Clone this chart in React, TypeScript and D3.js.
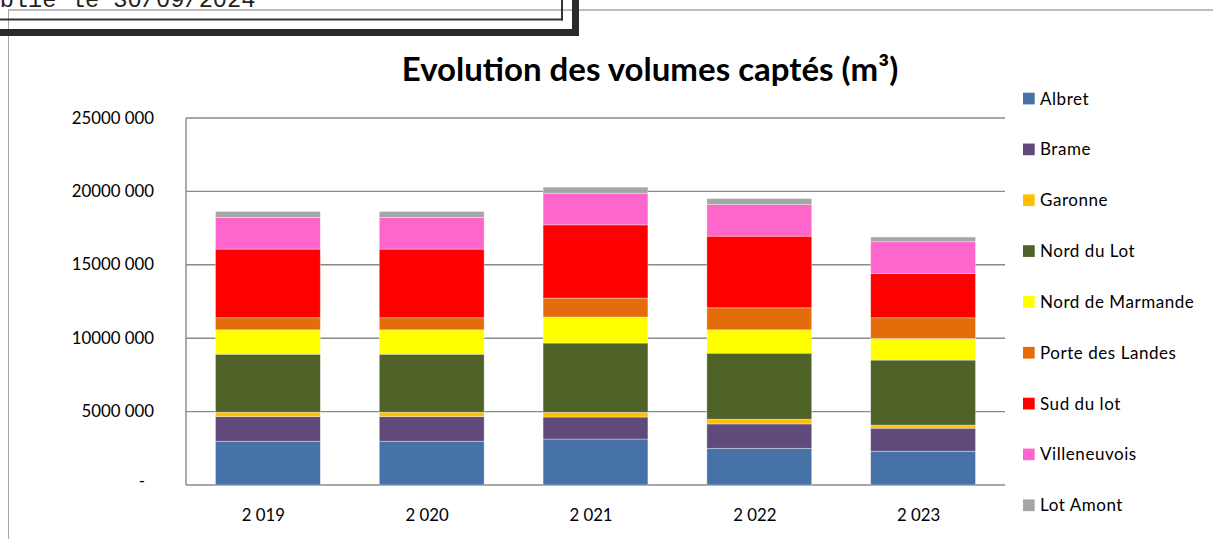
import React from "react";
import * as d3 from "d3";

const years = ["2 019", "2 020", "2 021", "2 022", "2 023"];

const seriesNames = [
  "Albret",
  "Brame",
  "Garonne",
  "Nord du Lot",
  "Nord de Marmande",
  "Porte des Landes",
  "Sud du lot",
  "Villeneuvois",
  "Lot Amont",
];

const albret = [2980000, 2980000, 3130000, 2500000, 2300000];
const brame = [1680000, 1680000, 1500000, 1660000, 1570000];
const garonne = [300000, 300000, 320000, 320000, 210000];
const nordDuLot = [3950000, 3950000, 4720000, 4500000, 4430000];
const nordDeMarmande = [1660000, 1660000, 1770000, 1590000, 1470000];
const porteDesLandes = [820000, 820000, 1290000, 1500000, 1410000];
const sudDuLot = [4680000, 4680000, 4990000, 4880000, 3020000];
const villeneuvois = [2150000, 2150000, 2160000, 2150000, 2160000];
const lotAmont = [410000, 410000, 410000, 410000, 320000];

const seriesValues = [
  albret,
  brame,
  garonne,
  nordDuLot,
  nordDeMarmande,
  porteDesLandes,
  sudDuLot,
  villeneuvois,
  lotAmont,
];

const seriesColors = [
  "#4672A8",
  "#604A7B",
  "#FFC000",
  "#4F6228",
  "#FFFF00",
  "#E46C0A",
  "#FF0000",
  "#FF66CC",
  "#A6A6A6",
];

const yTickValues = [0, 5000000, 10000000, 15000000, 20000000, 25000000];
const yTickLabels = ["-", "5000 000", "10000 000", "15000 000", "20000 000", "25000 000"];

const title = "Evolution des volumes captés (m³)";
const stampText = "Établie le 30/09/2024";

export default function App() {
  const W = 1213;
  const H = 539;
  const left = 186;
  const right = 1005;
  const top = 118;
  const bottom = 485;

  const rows = years.map((y, i) => {
    const r: any = { year: y };
    seriesNames.forEach((s, j) => (r[s] = seriesValues[j][i]));
    return r;
  });
  const stacked = d3.stack<any>().keys(seriesNames)(rows);

  const x = d3
    .scaleBand<string>()
    .domain(years)
    .range([left, right])
    .paddingInner(0.36)
    .paddingOuter(0.18);
  const y = d3.scaleLinear().domain([0, 25000000]).range([bottom, top]);

  const font = "Lato, 'Open Sans', sans-serif";
  const legendY0 = 98.5;
  const legendStep = 50.84;

  return (
    <svg
      width={W}
      height={H}
      style={{ position: "absolute", left: 0, top: 0, background: "#fff" }}
    >
      <rect x={0} y={0} width={W} height={H} fill="#fff" />
      {/* frame lines */}
      <line x1={8} y1={10} x2={W} y2={10} stroke="#a6a6a6" strokeWidth={1.5} />
      <line x1={8.5} y1={10} x2={8.5} y2={H} stroke="#a6a6a6" strokeWidth={1} />
      {/* stamp box */}
      <text
        x={-43}
        y={6.5}
        fontFamily="'Liberation Mono', 'DejaVu Sans Mono', monospace"
        fontSize={23.7}
        fill="#222"
      >
        {stampText}
      </text>
      <line x1={0} y1={19.5} x2={563} y2={19.5} stroke="#333" strokeWidth={2} />
      <line x1={562} y1={0} x2={562} y2={20.5} stroke="#333" strokeWidth={2} />
      <rect x={0} y={29} width={579} height={7} fill="#2b2b2b" />
      <rect x={572} y={0} width={7} height={36} fill="#2b2b2b" />

      {/* title */}
      <text
        x={650}
        y={81}
        textAnchor="middle"
        fontFamily={font}
        fontWeight="bold"
        fontSize={33}
        fill="#000"
      >
        {title}
      </text>

      {/* gridlines */}
      {yTickValues.map((v, i) => (
        <line
          key={"g" + i}
          x1={left}
          x2={right}
          y1={y(v)}
          y2={y(v)}
          stroke="#8a8a8a"
          strokeWidth={1.4}
        />
      ))}
      <line x1={left} x2={left} y1={top} y2={bottom} stroke="#8a8a8a" strokeWidth={1.4} />

      {/* y labels */}
      {yTickValues.map((v, i) => (
        <text
          key={"yl" + i}
          x={i === 0 ? 145 : 154}
          y={y(v) + (i === 0 ? 2 : 5.5)}
          textAnchor="end"
          fontFamily={font}
          fontSize={16.8}
          fill="#000"
        >
          {yTickLabels[i]}
        </text>
      ))}

      {/* bars */}
      {stacked.map((layer, j) => (
        <g key={"s" + j} fill={seriesColors[j]}>
          {layer.map((d, i) => (
            <rect
              key={i}
              x={x(years[i])!}
              width={x.bandwidth()}
              y={y(d[1])}
              height={y(d[0]) - y(d[1])}
              stroke="#ffffff"
              strokeOpacity={0.45}
              strokeWidth={0.75}
            />
          ))}
        </g>
      ))}

      {/* x labels */}
      {years.map((yr) => (
        <text
          key={"xl" + yr}
          x={x(yr)! + x.bandwidth() / 2 - 4.5}
          y={521}
          textAnchor="middle"
          fontFamily={font}
          fontSize={16.8}
          fill="#000"
        >
          {yr}
        </text>
      ))}

      {/* legend */}
      {seriesNames.map((s, j) => (
        <g key={"lg" + j}>
          <rect
            x={1023}
            y={legendY0 + j * legendStep - 5.8}
            width={11.7}
            height={11.7}
            fill={seriesColors[j]}
          />
          <text
            x={1040}
            y={legendY0 + j * legendStep + 6}
            fontFamily={font}
            fontSize={17}
            letterSpacing={0.55}
            fill="#000"
          >
            {s}
          </text>
        </g>
      ))}
    </svg>
  );
}
